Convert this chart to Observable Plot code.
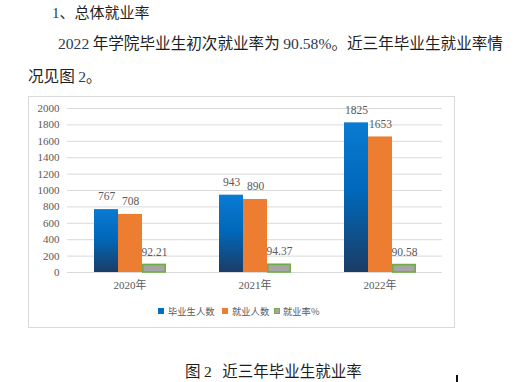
<!DOCTYPE html>
<html>
<head>
<meta charset="utf-8">
<script src="https://cdn.jsdelivr.net/npm/d3@7"></script>
<script src="https://cdn.jsdelivr.net/npm/@observablehq/plot@0.6"></script>
<style>
  html, body { margin: 0; padding: 0; background: #fff; width: 514px; height: 382px; overflow: hidden; }
  .t { position: absolute; white-space: nowrap; font-family: "Noto Sans CJK SC", sans-serif; color: #1e1e1e; line-height: 20px; }
  .n { font-family: "Liberation Serif", serif; color: #2b3a55; }
  #box { position: absolute; left: 28px; top: 96px; width: 425px; height: 230px; border: 1px solid #d9d9d9; }
  #box svg { position: absolute; left: 0; top: 0; }
  .lg { position: absolute; font-family: "Noto Sans CJK SC", sans-serif; font-size: 9px; color: #595959; line-height: 12px; white-space: nowrap; }
  .sq { position: absolute; width: 6px; height: 6px; }
</style>
</head>
<body>
<div class="t" style="left:52px; top:2px; font-size:15px;"><span class="n">1</span>、总体就业率</div>
<div class="t" style="left:58px; top:32px; font-size:15.6px;"><span class="n">2022</span> 年学院毕业生初次就业率为 <span class="n">90.58%</span>。近三年毕业生就业率情</div>
<div class="t" style="left:28px; top:65px; font-size:15.6px;">况见图 <span class="n">2</span>。</div>

<div id="box"></div>

<div class="t" style="left:185px; top:360px; font-size:15.5px;">图 <span class="n" style="color:#1e1e1e">2</span>&nbsp;&nbsp;&nbsp;近三年毕业生就业率</div>
<div style="position:absolute; left:456px; top:375px; width:1.5px; height:7px; background:#111;"></div>

<script>
const years = ["2020年", "2021年", "2022年"];
const seriesNames = ["毕业生人数", "就业人数", "就业率%"];
const graduates = [767, 943, 1825];
const employed = [708, 890, 1653];
const rates = [92.21, 94.37, 90.58];
const rateLabels = ["92.21", "94.37", "90.58"];

const rows = years.flatMap((yr, i) => [
  { year: yr, series: seriesNames[0], value: graduates[i], label: String(graduates[i]) },
  { year: yr, series: seriesNames[1], value: employed[i], label: String(employed[i]) },
  { year: yr, series: seriesNames[2], value: rates[i], label: rateLabels[i] }
]);

const yTicks = d3.range(0, 2001, 200);

const chart = Plot.plot({
  width: 425,
  height: 230,
  marginLeft: 38,
  marginRight: 12,
  marginTop: 11,
  marginBottom: 55,
  style: { fontFamily: "'Liberation Serif', 'Noto Sans CJK SC', serif", fontSize: "11px", color: "#595959", background: "transparent" },
  fx: { domain: years, padding: 0, axis: "bottom", tickSize: 0, tickPadding: 9, label: null },
  x: { domain: seriesNames, paddingInner: 0, paddingOuter: 1.07, axis: null },
  y: { domain: [0, 2000], ticks: yTicks, tickFormat: d => String(d), tickSize: 0, tickPadding: 8, label: null },
  marks: [
    Plot.ruleY(yTicks, { stroke: "#d9d9d9", strokeWidth: 1 }),
    Plot.barY(rows.filter(d => d.series === seriesNames[0]), { fx: "year", x: "series", y: "value", fill: "url(#blueGrad)" }),
    Plot.barY(rows.filter(d => d.series === seriesNames[1]), { fx: "year", x: "series", y: "value", fill: "#ed7d31" }),
    Plot.barY(rows.filter(d => d.series === seriesNames[2]), { fx: "year", x: "series", y: "value", fill: "#a5a5a5", stroke: "#70ad47", strokeWidth: 1.6, insetLeft: 0.8, insetRight: 0.8 }),
    Plot.text(rows, { fx: "year", x: "series", y: "value", text: "label", dy: -13, fill: "#595959", fontSize: 11.5 })
  ]
});

d3.select(chart).insert("defs", ":first-child").html(
  '<linearGradient id="blueGrad" x1="0" y1="0" x2="0" y2="1">' +
  '<stop offset="0" stop-color="#0a7ad3"/>' +
  '<stop offset="0.45" stop-color="#0069bb"/>' +
  '<stop offset="1" stop-color="#1b3c66"/>' +
  '</linearGradient>'
);

document.getElementById("box").appendChild(chart);

// legend
const box = document.getElementById("box");
const legendItems = [
  { sq: { left: 129, bg: "#0070c0" }, text: { left: 139, t: seriesNames[0] } },
  { sq: { left: 193, bg: "#ed7d31" }, text: { left: 203, t: seriesNames[1] } },
  { sq: { left: 245, bg: "#a5a5a5", border: "#70ad47" }, text: { left: 254, t: seriesNames[2] } }
];
legendItems.forEach(it => {
  const s = document.createElement("div");
  s.className = "sq";
  s.style.left = it.sq.left + "px";
  s.style.top = "211px";
  s.style.background = it.sq.bg;
  if (it.sq.border) { s.style.border = "1.5px solid " + it.sq.border; s.style.width = "4px"; s.style.height = "4px"; }
  box.appendChild(s);
  const t = document.createElement("div");
  t.className = "lg";
  t.style.left = it.text.left + "px";
  t.style.top = "208px";
  t.style.fontSize = "9.3px";
  t.textContent = it.text.t;
  box.appendChild(t);
});
</script>
</body>
</html>
